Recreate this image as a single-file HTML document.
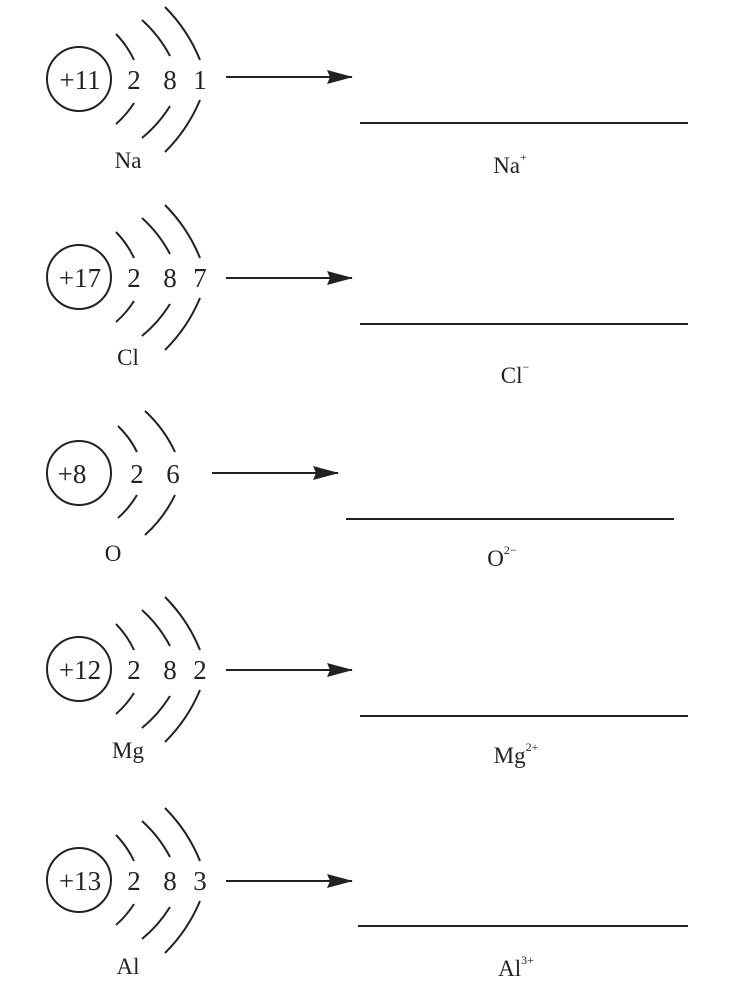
<!DOCTYPE html>
<html><head><meta charset="utf-8"><style>
html,body{margin:0;padding:0;background:#fff;}
svg{display:block;}
text{font-family:"Liberation Serif",serif;fill:#222;}
</style></head><body>
<svg width="731" height="992" viewBox="0 0 731 992" xmlns="http://www.w3.org/2000/svg">
<defs>
<marker id="ah" markerWidth="26" markerHeight="14" refX="25" refY="7" orient="auto" markerUnits="userSpaceOnUse">
<path d="M0,0 L26,7 L0,14 L3,7 Z" fill="#222"/>
</marker>
<g id="atom3" fill="none" stroke="#222" stroke-width="2">
<circle cx="79" cy="0" r="32"/>
<path d="M116,-45 A95,95 0 0 1 134,-19"/>
<path d="M134,24 A95,95 0 0 1 116,45"/>
<path d="M142,-59 A130,130 0 0 1 170,-23"/>
<path d="M170,27 A130,130 0 0 1 142,59"/>
<path d="M165,-72 A160,160 0 0 1 200,-19"/>
<path d="M200,21 A160,160 0 0 1 165,73"/>
</g>
</defs>

<!-- Na -->
<use href="#atom3" y="79"/>
<text x="80" y="89" font-size="27" text-anchor="middle">+11</text>
<text x="134" y="89" font-size="27" text-anchor="middle">2</text>
<text x="170" y="89" font-size="27" text-anchor="middle">8</text>
<text x="200" y="89" font-size="27" text-anchor="middle">1</text>
<line x1="226" y1="77" x2="352" y2="77" stroke="#222" stroke-width="2" marker-end="url(#ah)"/>
<line x1="360" y1="123" x2="688" y2="123" stroke="#222" stroke-width="2"/>
<text x="128" y="168" font-size="23" text-anchor="middle">Na</text>
<text x="510" y="173" font-size="23" text-anchor="middle">Na<tspan font-size="12" dy="-12">+</tspan></text>

<!-- Cl -->
<use href="#atom3" y="277"/>
<text x="80" y="287" font-size="27" text-anchor="middle">+17</text>
<text x="134" y="287" font-size="27" text-anchor="middle">2</text>
<text x="170" y="287" font-size="27" text-anchor="middle">8</text>
<text x="200" y="287" font-size="27" text-anchor="middle">7</text>
<line x1="226" y1="278" x2="352" y2="278" stroke="#222" stroke-width="2" marker-end="url(#ah)"/>
<line x1="360" y1="324" x2="688" y2="324" stroke="#222" stroke-width="2"/>
<text x="128" y="365" font-size="23" text-anchor="middle">Cl</text>
<text x="515" y="383" font-size="23" text-anchor="middle">Cl<tspan font-size="12" dy="-12">−</tspan></text>

<!-- O -->
<g fill="none" stroke="#222" stroke-width="2">
<circle cx="79" cy="473" r="32"/>
<path d="M118,426 A95,95 0 0 1 137,452"/>
<path d="M137,495 A95,95 0 0 1 118,518"/>
<path d="M145,411 A130,130 0 0 1 175,452"/>
<path d="M175,495 A130,130 0 0 1 145,535"/>
</g>
<text x="72" y="483" font-size="27" text-anchor="middle">+8</text>
<text x="137" y="483" font-size="27" text-anchor="middle">2</text>
<text x="173" y="483" font-size="27" text-anchor="middle">6</text>
<line x1="212" y1="473" x2="338" y2="473" stroke="#222" stroke-width="2" marker-end="url(#ah)"/>
<line x1="346" y1="519" x2="674" y2="519" stroke="#222" stroke-width="2"/>
<text x="113" y="561" font-size="23" text-anchor="middle">O</text>
<text x="502" y="566" font-size="23" text-anchor="middle">O<tspan font-size="12" dy="-12">2−</tspan></text>

<!-- Mg -->
<use href="#atom3" y="669"/>
<text x="80" y="679" font-size="27" text-anchor="middle">+12</text>
<text x="134" y="679" font-size="27" text-anchor="middle">2</text>
<text x="170" y="679" font-size="27" text-anchor="middle">8</text>
<text x="200" y="679" font-size="27" text-anchor="middle">2</text>
<line x1="226" y1="670" x2="352" y2="670" stroke="#222" stroke-width="2" marker-end="url(#ah)"/>
<line x1="360" y1="716" x2="688" y2="716" stroke="#222" stroke-width="2"/>
<text x="128" y="758" font-size="23" text-anchor="middle">Mg</text>
<text x="516" y="763" font-size="23" text-anchor="middle">Mg<tspan font-size="12" dy="-12">2+</tspan></text>

<!-- Al -->
<use href="#atom3" y="880"/>
<text x="80" y="890" font-size="27" text-anchor="middle">+13</text>
<text x="134" y="890" font-size="27" text-anchor="middle">2</text>
<text x="170" y="890" font-size="27" text-anchor="middle">8</text>
<text x="200" y="890" font-size="27" text-anchor="middle">3</text>
<line x1="226" y1="881" x2="352" y2="881" stroke="#222" stroke-width="2" marker-end="url(#ah)"/>
<line x1="358" y1="926" x2="688" y2="926" stroke="#222" stroke-width="2"/>
<text x="128" y="974" font-size="23" text-anchor="middle">Al</text>
<text x="516" y="976" font-size="23" text-anchor="middle">Al<tspan font-size="12" dy="-12">3+</tspan></text>
</svg>
</body></html>
